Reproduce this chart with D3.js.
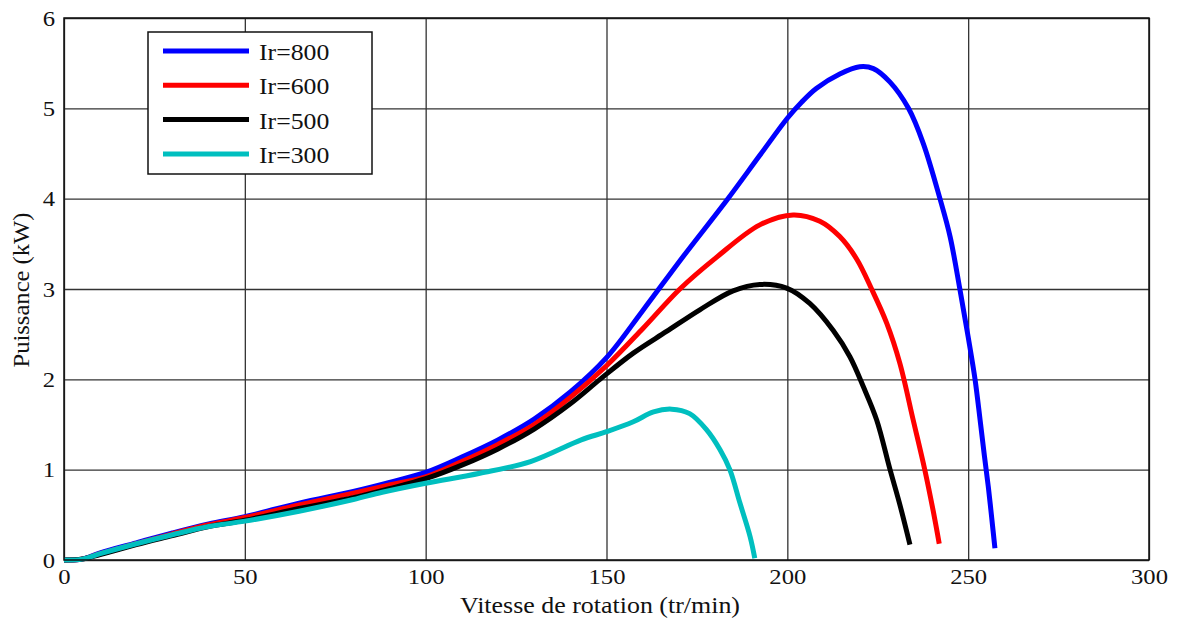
<!DOCTYPE html>
<html>
<head>
<meta charset="utf-8">
<script src="https://cdn.jsdelivr.net/npm/d3@7"></script>
<style>
    body { margin: 0; background: #fff; }
    svg { display: block; font-family: 'Liberation Serif', 'Times New Roman', serif; }
    .grid line { stroke: #333; stroke-width: 1.3; }
    .grid path { display: none; }
    .curve { fill: none; stroke-width: 5; stroke-linejoin: round; stroke-linecap: butt; }
</style>
</head>
<body>
<div id="chart"></div>
<script>

// DATA

var xTicks = [0, 50, 100, 150, 200, 250, 300];
var yTicks = [0, 1, 2, 3, 4, 5, 6];

var xLabel = 'Vitesse de rotation (tr/min)';
var yLabel = 'Puissance (kW)';

var seriesNames  = ['Ir=800', 'Ir=600', 'Ir=500', 'Ir=300'];
var seriesColors = ['#0000ff', '#ff0000', '#000000', '#00bfbf'];

var speed800 = [0, 5, 10, 20, 30, 40, 50, 65, 80, 90, 100, 110, 120, 130, 140, 150, 160, 171.2, 183.2, 192.4, 200, 204, 208, 214.5, 220, 223.8, 228.4, 233.5, 237.6, 242.2, 245, 247.7, 250, 251.9, 253.3, 254.5, 255.6, 256.5, 257.4];
var power800 = [0, 0.01, 0.08, 0.19, 0.3, 0.4, 0.48, 0.63, 0.76, 0.86, 0.97, 1.14, 1.33, 1.56, 1.86, 2.24, 2.76, 3.36, 3.98, 4.48, 4.89, 5.07, 5.22, 5.38, 5.46, 5.44, 5.29, 5.0, 4.61, 4.0, 3.58, 3.0, 2.47, 2.0, 1.55, 1.15, 0.8, 0.47, 0.13];

var speed600 = [0, 5, 10, 20, 30, 40, 50, 65, 80, 90, 100, 110, 120, 130, 140, 150, 160, 170.3, 180.4, 192.4, 201.6, 209, 214.5, 219.2, 223.3, 227.5, 231.1, 234.8, 238, 240.3, 242];
var power600 = [0, 0.01, 0.07, 0.18, 0.29, 0.39, 0.47, 0.61, 0.74, 0.83, 0.92, 1.09, 1.28, 1.50, 1.80, 2.15, 2.56, 3.0, 3.35, 3.71, 3.82, 3.75, 3.58, 3.33, 3.0, 2.62, 2.18, 1.55, 1.0, 0.55, 0.18];

var speed500 = [0, 5, 10, 20, 30, 40, 50, 65, 80, 90, 100, 110, 120, 130, 140, 148.2, 157.4, 166.6, 175.8, 185, 192.4, 199.8, 206.2, 212.7, 217.3, 221, 224.7, 228.4, 231, 233.9];
var power500 = [0, 0.01, 0.06, 0.17, 0.27, 0.37, 0.44, 0.57, 0.69, 0.79, 0.9, 1.05, 1.23, 1.45, 1.73, 2.0, 2.29, 2.53, 2.77, 2.98, 3.05, 3.01, 2.84, 2.54, 2.25, 1.92, 1.55, 1.0, 0.63, 0.17];

var speed300 = [0, 5, 10, 20, 30, 40, 50, 65, 80, 88, 100, 115, 129, 143, 150, 157.4, 163, 168, 173, 177.7, 181.4, 184.1, 186.9, 189.7, 191];
var power300 = [0, 0.01, 0.07, 0.18, 0.28, 0.37, 0.43, 0.54, 0.67, 0.75, 0.85, 0.96, 1.09, 1.33, 1.42, 1.53, 1.64, 1.67, 1.62, 1.44, 1.22, 1.0, 0.63, 0.26, 0.02];


// HELPERS

// Pairs an x array with a y array
function zipXY( xs, ys ) {
    return xs.map( function( x, i ) {
        return { x: x, y: ys[i] };
    } );
}

// Stretch horizontal text a bit, like the scanned original
function widen( sel, factor ) {
    sel.each( function() {
        var len = this.getComputedTextLength();
        d3.select( this )
            .attr( 'textLength', len * factor )
            .attr( 'lengthAdjust', 'spacingAndGlyphs' );
    } );
}


// PLOT

var W = 1177, H = 619;
var margin = { left: 64, right: 28, top: 18, bottom: 59 };
var width  = W - margin.left - margin.right;
var height = H - margin.top - margin.bottom;

var svg = d3.select( '#chart' ).append( 'svg' )
    .attr( 'width', W )
    .attr( 'height', H );

var g = svg.append( 'g' )
    .attr( 'transform', 'translate(' + margin.left + ',' + margin.top + ')' );

var xScale = d3.scaleLinear().domain( [0, 300] ).range( [0, width] );
var yScale = d3.scaleLinear().domain( [0, 6] ).range( [height, 0] );

// Grid lines
g.append( 'g' )
    .attr( 'class', 'grid' )
    .attr( 'transform', 'translate(0,' + height + ')' )
    .call( d3.axisBottom( xScale ).tickValues( xTicks ).tickSize( -height ).tickFormat( '' ) );

g.append( 'g' )
    .attr( 'class', 'grid' )
    .call( d3.axisLeft( yScale ).tickValues( yTicks ).tickSize( -width ).tickFormat( '' ) );

// Curves
var series = [
    zipXY( speed800, power800 ),
    zipXY( speed600, power600 ),
    zipXY( speed500, power500 ),
    zipXY( speed300, power300 )
];

var line = d3.line()
    .x( function( d ) { return xScale( d.x ); } )
    .y( function( d ) { return yScale( d.y ); } )
    .curve( d3.curveCatmullRom.alpha( 0.5 ) );

g.selectAll( '.curve' )
    .data( series )
    .enter().append( 'path' )
    .attr( 'class', 'curve' )
    .attr( 'stroke', function( d, i ) { return seriesColors[i]; } )
    .attr( 'd', line );

// Frame
g.append( 'rect' )
    .attr( 'width', width )
    .attr( 'height', height )
    .attr( 'fill', 'none' )
    .attr( 'stroke', '#111' )
    .attr( 'stroke-width', 1.5 );

// Tick labels
var fmt = d3.format( 'd' );

var xAxis = g.append( 'g' )
    .attr( 'transform', 'translate(0,' + height + ')' )
    .call( d3.axisBottom( xScale ).tickValues( xTicks ).tickFormat( fmt ).tickSize( 0 ).tickPadding( 8 ) );

var yAxis = g.append( 'g' )
    .call( d3.axisLeft( yScale ).tickValues( yTicks ).tickFormat( fmt ).tickSize( 0 ).tickPadding( 9 ) );

[xAxis, yAxis].forEach( function( a ) {
    a.select( '.domain' ).remove();
    a.selectAll( 'text' )
        .attr( 'font-family', 'Liberation Serif, serif' )
        .attr( 'font-size', 22 )
        .attr( 'fill', '#111' );
} );
widen( xAxis.selectAll( 'text' ), 1.12 );
widen( yAxis.selectAll( 'text' ), 1.12 );

// Axis titles
svg.append( 'text' )
    .attr( 'x', 600 )
    .attr( 'y', 613 )
    .attr( 'text-anchor', 'middle' )
    .attr( 'font-size', 23 )
    .attr( 'fill', '#111' )
    .attr( 'textLength', 280 )
    .attr( 'lengthAdjust', 'spacingAndGlyphs' )
    .text( xLabel );

svg.append( 'text' )
    .attr( 'transform', 'translate(29,290) rotate(-90)' )
    .attr( 'text-anchor', 'middle' )
    .attr( 'font-size', 24 )
    .attr( 'fill', '#111' )
    .attr( 'textLength', 155 )
    .attr( 'lengthAdjust', 'spacingAndGlyphs' )
    .text( yLabel );

// Legend
var legend = svg.append( 'g' )
    .attr( 'transform', 'translate(148,32)' );

legend.append( 'rect' )
    .attr( 'width', 224 )
    .attr( 'height', 142 )
    .attr( 'fill', '#fff' )
    .attr( 'stroke', '#111' )
    .attr( 'stroke-width', 1.5 );

var items = legend.selectAll( '.item' )
    .data( seriesNames )
    .enter().append( 'g' )
    .attr( 'class', 'item' )
    .attr( 'transform', function( d, i ) { return 'translate(0,' + ( 19 + i * 34.3 ) + ')'; } );

items.append( 'line' )
    .attr( 'x1', 15 )
    .attr( 'x2', 101 )
    .attr( 'stroke', function( d, i ) { return seriesColors[i]; } )
    .attr( 'stroke-width', 5 );

items.append( 'text' )
    .attr( 'x', 111 )
    .attr( 'y', 9 )
    .attr( 'font-size', 23 )
    .attr( 'fill', '#111' )
    .text( function( d ) { return d; } )
    .call( widen, 1.12 );

</script>
</body>
</html>
